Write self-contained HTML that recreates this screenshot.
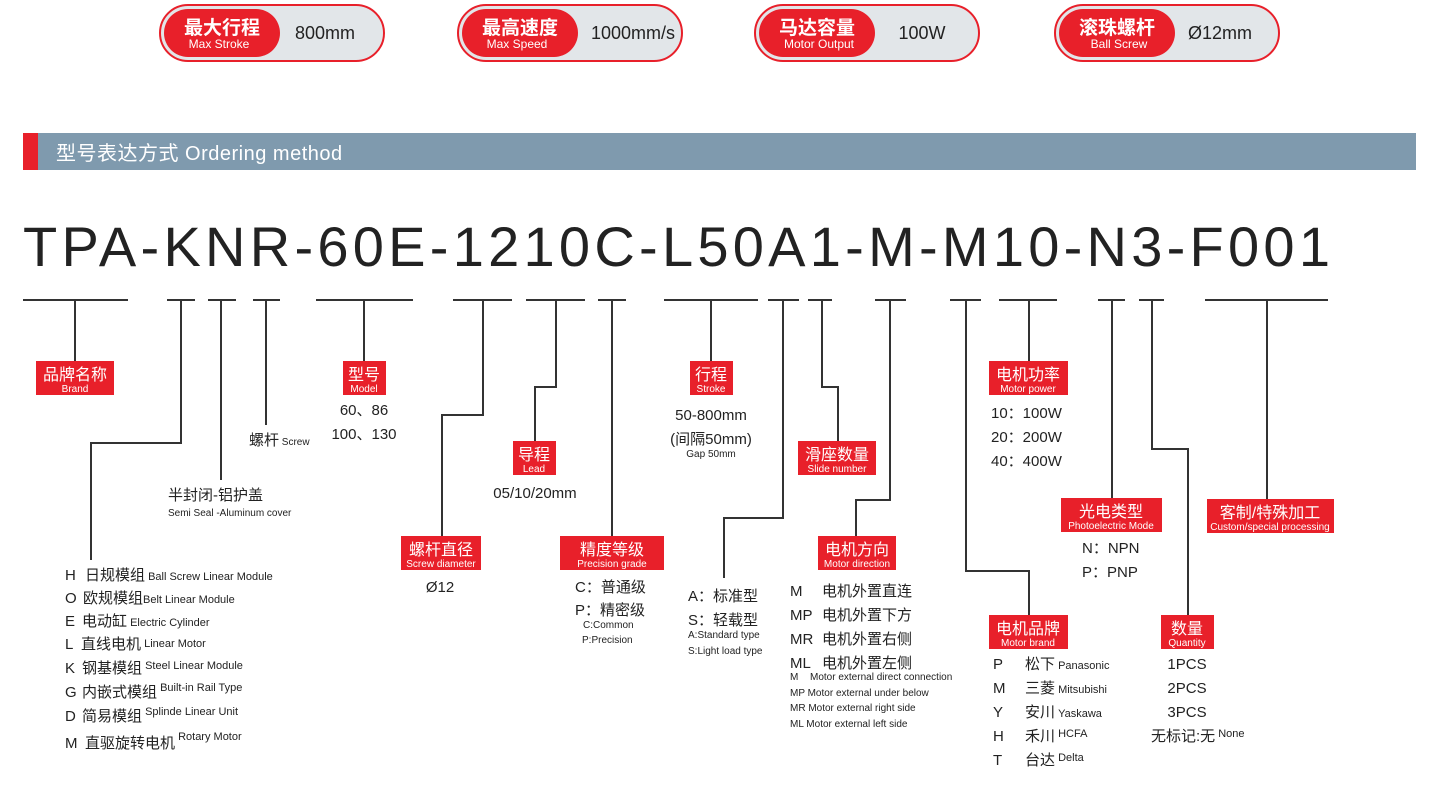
<!DOCTYPE html>
<html><head><meta charset="utf-8"><style>
html,body{margin:0;padding:0;background:#fff;}
svg{display:block;font-family:"Liberation Sans","Noto Sans CJK SC",sans-serif;}
</style></head><body>
<svg width="1440" height="803" viewBox="0 0 1440 803" xmlns="http://www.w3.org/2000/svg">
<g>
<rect x="160" y="5" width="224" height="56" rx="28" fill="#e2e6e9" stroke="#e8202a" stroke-width="2"/>
<rect x="164" y="9" width="116" height="48" rx="24" fill="#e8202a"/>
<text x="222" y="34" font-size="19" fill="#fff" text-anchor="middle" font-weight="bold">最大行程</text>
<text x="219" y="48" font-size="12" fill="#fff" text-anchor="middle">Max Stroke</text>
<text x="325" y="39" font-size="18" fill="#222" text-anchor="middle">800mm</text>

<rect x="458" y="5" width="224" height="56" rx="28" fill="#e2e6e9" stroke="#e8202a" stroke-width="2"/>
<rect x="462" y="9" width="116" height="48" rx="24" fill="#e8202a"/>
<text x="520" y="34" font-size="19" fill="#fff" text-anchor="middle" font-weight="bold">最高速度</text>
<text x="517" y="48" font-size="12" fill="#fff" text-anchor="middle">Max Speed</text>
<text x="633" y="39" font-size="18" fill="#222" text-anchor="middle">1000mm/s</text>

<rect x="755" y="5" width="224" height="56" rx="28" fill="#e2e6e9" stroke="#e8202a" stroke-width="2"/>
<rect x="759" y="9" width="116" height="48" rx="24" fill="#e8202a"/>
<text x="817" y="34" font-size="19" fill="#fff" text-anchor="middle" font-weight="bold">马达容量</text>
<text x="819" y="48" font-size="12" fill="#fff" text-anchor="middle">Motor Output</text>
<text x="922" y="39" font-size="18" fill="#222" text-anchor="middle">100W</text>

<rect x="1055" y="5" width="224" height="56" rx="28" fill="#e2e6e9" stroke="#e8202a" stroke-width="2"/>
<rect x="1059" y="9" width="116" height="48" rx="24" fill="#e8202a"/>
<text x="1117" y="34" font-size="19" fill="#fff" text-anchor="middle" font-weight="bold">滚珠螺杆</text>
<text x="1119" y="48" font-size="12" fill="#fff" text-anchor="middle">Ball Screw</text>
<text x="1220" y="39" font-size="18" fill="#222" text-anchor="middle">Ø12mm</text>
</g>
<rect x="23" y="133" width="15" height="37" fill="#e8202a"/>
<rect x="38" y="133" width="1378" height="37" fill="#7f9aae"/>
<text x="56" y="160" font-size="20" fill="#fff" letter-spacing="0.5">型号表达方式 Ordering method</text>
<text x="23" y="266" font-size="56" fill="#222" textLength="1307" lengthAdjust="spacing">TPA-KNR-60E-1210C-L50A1-M-M10-N3-F001</text>
<g stroke="#333" stroke-width="2" fill="none">
<path d="M23 300H128M75 300V361"/>
<path d="M167 300H195M181 300V443H91V560"/>
<path d="M208 300H236M221 300V480"/>
<path d="M253 300H280M266 300V425"/>
<path d="M316 300H413M364 300V361"/>
<path d="M453 300H512M483 300V415H442V537"/>
<path d="M526 300H585M556 300V387H535V441"/>
<path d="M598 300H626M612 300V536"/>
<path d="M664 300H758M711 300V361"/>
<path d="M768 300H799M783 300V518H724V578"/>
<path d="M808 300H832M822 300V387H838V441"/>
<path d="M875 300H906M890 300V500H856V536"/>
<path d="M950 300H981M966 300V571H1029V615"/>
<path d="M999 300H1057M1029 300V361"/>
<path d="M1098 300H1125M1112 300V498"/>
<path d="M1139 300H1164M1152 300V449H1188V615"/>
<path d="M1205 300H1328M1267 300V499"/>
</g>
<g fill="#e8202a">
<rect x="36" y="361" width="78" height="34"/>
<rect x="343" y="361" width="43" height="34"/>
<rect x="401" y="536" width="80" height="34"/>
<rect x="513" y="441" width="43" height="34"/>
<rect x="560" y="536" width="104" height="34"/>
<rect x="690" y="361" width="43" height="34"/>
<rect x="798" y="441" width="78" height="34"/>
<rect x="818" y="536" width="78" height="34"/>
<rect x="989" y="361" width="79" height="34"/>
<rect x="1061" y="498" width="101" height="34"/>
<rect x="1207" y="499" width="127" height="34"/>
<rect x="989" y="615" width="79" height="34"/>
<rect x="1161" y="615" width="53" height="34"/>
</g>
<g fill="#fff" text-anchor="middle">
<text x="75" y="380" font-size="16">品牌名称</text><text x="75" y="392" font-size="10">Brand</text>
<text x="364" y="380" font-size="16">型号</text><text x="364" y="392" font-size="10">Model</text>
<text x="441" y="555" font-size="16">螺杆直径</text><text x="441" y="567" font-size="10">Screw diameter</text>
<text x="534" y="460" font-size="16">导程</text><text x="534" y="472" font-size="10">Lead</text>
<text x="612" y="555" font-size="16">精度等级</text><text x="612" y="567" font-size="10">Precision grade</text>
<text x="711" y="380" font-size="16">行程</text><text x="711" y="392" font-size="10">Stroke</text>
<text x="837" y="460" font-size="16">滑座数量</text><text x="837" y="472" font-size="10">Slide number</text>
<text x="857" y="555" font-size="16">电机方向</text><text x="857" y="567" font-size="10">Motor direction</text>
<text x="1028" y="380" font-size="16">电机功率</text><text x="1028" y="392" font-size="10">Motor power</text>
<text x="1111" y="517" font-size="16">光电类型</text><text x="1111" y="529" font-size="10">Photoelectric Mode</text>
<text x="1270" y="518" font-size="16">客制/特殊加工</text><text x="1270" y="530" font-size="10">Custom/special processing</text>
<text x="1028" y="634" font-size="16">电机品牌</text><text x="1028" y="646" font-size="10">Motor brand</text>
<text x="1187" y="634" font-size="16">数量</text><text x="1187" y="646" font-size="10">Quantity</text>
</g>
<g fill="#222" font-size="15">
<text x="364" y="415" text-anchor="middle">60、86</text>
<text x="364" y="439" text-anchor="middle">100、130</text>
<text x="249" y="445">螺杆<tspan font-size="10"> Screw</tspan></text>
<text x="168" y="500">半封闭-铝护盖</text>
<text x="168" y="516" font-size="10">Semi Seal -Aluminum cover</text>
<text x="440" y="592" text-anchor="middle">Ø12</text>
<text x="535" y="498" text-anchor="middle">05/10/20mm</text>
<text x="711" y="420" text-anchor="middle">50-800mm</text>
<text x="711" y="444" text-anchor="middle">(间隔50mm)</text>
<text x="711" y="457" text-anchor="middle" font-size="10">Gap 50mm</text>
<text x="575" y="592">C：普通级</text>
<text x="575" y="615">P：精密级</text>
<text x="583" y="628" font-size="10">C:Common</text>
<text x="582" y="643" font-size="10">P:Precision</text>
<text x="688" y="601">A：标准型</text>
<text x="688" y="625">S：轻载型</text>
<text x="688" y="638" font-size="10">A:Standard type</text>
<text x="688" y="654" font-size="10">S:Light load type</text>
<text x="790" y="596">M</text><text x="822" y="596">电机外置直连</text>
<text x="790" y="620">MP</text><text x="822" y="620">电机外置下方</text>
<text x="790" y="644">MR</text><text x="822" y="644">电机外置右侧</text>
<text x="790" y="668">ML</text><text x="822" y="668">电机外置左侧</text>
<g font-size="10">
<text x="790" y="680">M <tspan x="810">Motor  external direct connection</tspan></text>
<text x="790" y="696">MP Motor external under below</text>
<text x="790" y="711">MR Motor external right side</text>
<text x="790" y="727">ML Motor external left side</text>
</g>
<text x="991" y="418">10：100W</text>
<text x="991" y="442">20：200W</text>
<text x="991" y="466">40：400W</text>
<text x="1082" y="553">N：NPN</text>
<text x="1082" y="577">P：PNP</text>
<text x="993" y="669">P</text><text x="1025" y="669">松下<tspan font-size="11"> Panasonic</tspan></text>
<text x="993" y="693">M</text><text x="1025" y="693">三菱<tspan font-size="11"> Mitsubishi</tspan></text>
<text x="993" y="717">Y</text><text x="1025" y="717">安川<tspan font-size="11"> Yaskawa</tspan></text>
<text x="993" y="741">H</text><text x="1025" y="741">禾川<tspan font-size="11" dy="-4"> HCFA</tspan></text>
<text x="993" y="765">T</text><text x="1025" y="765">台达<tspan font-size="11" dy="-4"> Delta</tspan></text>
<text x="1187" y="669" text-anchor="middle">1PCS</text>
<text x="1187" y="693" text-anchor="middle">2PCS</text>
<text x="1187" y="717" text-anchor="middle">3PCS</text>
<text x="1151" y="741">无标记:无<tspan font-size="11" dy="-4"> None</tspan></text>
<g>
<text x="65" y="580">H</text><text x="85" y="580">日规模组<tspan font-size="11"> Ball Screw Linear Module</tspan></text>
<text x="65" y="603">O</text><text x="83" y="603">欧规模组<tspan font-size="11">Belt Linear Module</tspan></text>
<text x="65" y="626">E</text><text x="82" y="626">电动缸<tspan font-size="11"> Electric Cylinder</tspan></text>
<text x="65" y="649">L</text><text x="81" y="649">直线电机<tspan font-size="11" dy="-2"> Linear Motor</tspan></text>
<text x="65" y="673">K</text><text x="82" y="673">钢基模组<tspan font-size="11" dy="-4"> Steel Linear Module</tspan></text>
<text x="65" y="697">G</text><text x="82" y="697">内嵌式模组<tspan font-size="11" dy="-6"> Built-in Rail Type</tspan></text>
<text x="65" y="721">D</text><text x="82" y="721">简易模组<tspan font-size="11" dy="-6"> Splinde Linear Unit</tspan></text>
<text x="65" y="748">M</text><text x="85" y="748">直驱旋转电机<tspan font-size="11" dy="-8"> Rotary Motor</tspan></text>
</g>
</g>
</svg>
</body></html>
